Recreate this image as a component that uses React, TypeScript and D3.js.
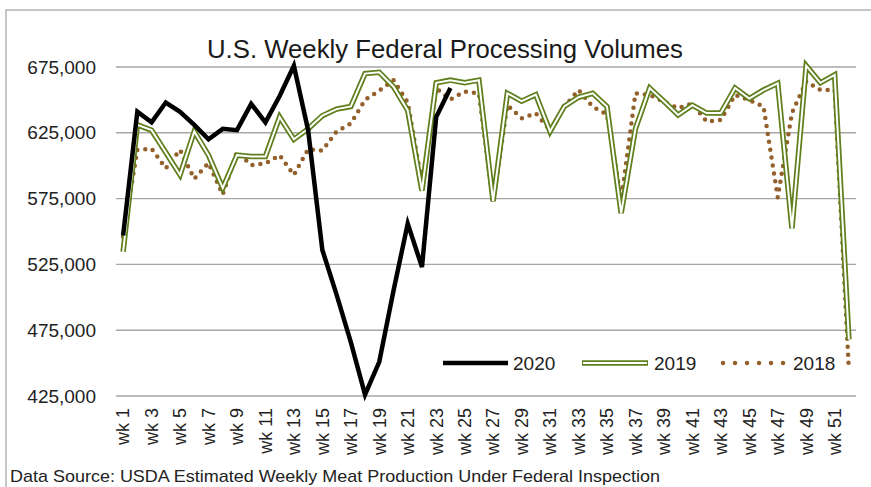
import React from "react";
import * as d3 from "d3";

const width = 871;
const height = 487;
const margin = { top: 67, left: 116, bottom: 91, right: 15 };

const weeks = d3.range(1, 53).map((d) => `wk ${d}`);
const yTicks = [425000, 475000, 525000, 575000, 625000, 675000];

const vol2020 = [
  547000, 641000, 633000, 648000, 641000, 631000, 620000, 628000, 627000, 647000,
  633000, 653000, 676000, 627000, 536000, 502000, 466000, 426000, 451000, 505000,
  556000, 523000, 637000, 659000,
];

const vol2019 = [
  534600, 631000, 627000, 610000, 593000, 626000, 608000, 583000, 608000, 607000,
  607000, 637000, 620000, 628000, 638000, 643000, 645000, 670000, 671000, 660000,
  642000, 581000, 663000, 665000, 663000, 665000, 573000, 655000, 649000, 654000,
  626000, 645000, 652000, 655000, 645000, 564000, 628000, 659000, 649000, 638500,
  646000, 640000, 640000, 659000, 651000, 657500, 662600, 552400, 676000, 663000,
  669000, 468000,
];

const vol2018 = [
  546000, 612000, 613000, 598000, 612000, 590000, 602000, 578000, 610600, 600500,
  601800, 608000, 593000, 612500, 611500, 626000, 632000, 650000, 657000, 665000,
  648000, 586600, 658800, 650400, 656300, 655000, 572600, 646100, 636000, 639800,
  627100, 644800, 657500, 644800, 639000, 573900, 655000, 653700, 648600, 643600,
  647400, 633500, 634800, 653700, 649900, 645000, 576000, 640000, 664000, 657500,
  657500, 444500,
];

const green = "#5f7f1c";
const brown = "#93602b";
const font = "'Liberation Sans', Arial, sans-serif";

const App = () => {
  const x = d3
    .scaleBand()
    .domain(weeks)
    .range([margin.left, width - margin.right]);
  const y = d3
    .scaleLinear()
    .domain([425000, 675000])
    .range([height - margin.bottom - 0, margin.top]);
  const cx = (i) => x(weeks[i]) + x.bandwidth() / 2;
  const line = d3
    .line()
    .x((d, i) => cx(i))
    .y((d) => y(d));
  const fmt = d3.format(",");

  return (
    <svg
      width={width}
      height={height}
      style={{ position: "absolute", left: 0, top: 0, background: "#fff" }}
    >
      <rect x={6} y={10} width={900} height={500} fill="#fff" stroke="#b4b4b4" strokeWidth={1.5} />

      <text x={445} y={58} textAnchor="middle" fontFamily={font} fontSize={25} fill="#1a1a1a" textLength={476} lengthAdjust="spacingAndGlyphs">
        U.S. Weekly Federal Processing Volumes
      </text>

      {yTicks.map((t) => (
        <g key={t}>
          <line x1={margin.left} x2={width - margin.right} y1={y(t)} y2={y(t)} stroke="#a6a6a6" strokeWidth={1.4} />
          <text x={96} y={y(t)} dy="0.35em" textAnchor="end" fontFamily={font} fontSize={19} fill="#222">
            {fmt(t)}
          </text>
        </g>
      ))}

      {weeks.map((w, i) =>
        i % 2 === 0 ? (
          <text key={w} transform={`translate(${cx(i)},408) rotate(-90)`} dy="0.35em" textAnchor="end" fontFamily={font} fontSize={18} fill="#222">
            {w}
          </text>
        ) : null
      )}

      <path d={line(vol2018)} fill="none" stroke={brown} strokeWidth={4.5} strokeLinecap="round" strokeDasharray="0 8" />
      <path d={line(vol2019)} fill="none" stroke={green} strokeWidth={5.5} strokeLinejoin="miter" />
      <path d={line(vol2019)} fill="none" stroke="#fff" strokeWidth={2} />
      <path d={line(vol2020)} fill="none" stroke="#000" strokeWidth={4.5} />

      <g fontFamily={font} fontSize={19} fill="#222">
        <line x1={443} x2={508} y1={363} y2={363} stroke="#000" strokeWidth={4.5} />
        <text x={513} y={370}>2020</text>
        <line x1={582} x2={648} y1={363} y2={363} stroke={green} strokeWidth={5.5} />
        <line x1={583} x2={647} y1={363} y2={363} stroke="#fff" strokeWidth={2} />
        <text x={654} y={370}>2019</text>
        <line x1={723} x2={784} y1={363} y2={363} stroke={brown} strokeWidth={4.5} strokeLinecap="round" strokeDasharray="0 12" />
        <text x={793} y={370}>2018</text>
      </g>

      <text x={10} y={482} fontFamily={font} fontSize={17} fill="#222" textLength={650} lengthAdjust="spacingAndGlyphs">
        Data Source: USDA Estimated Weekly Meat Production Under Federal Inspection
      </text>
    </svg>
  );
};

export default App;
